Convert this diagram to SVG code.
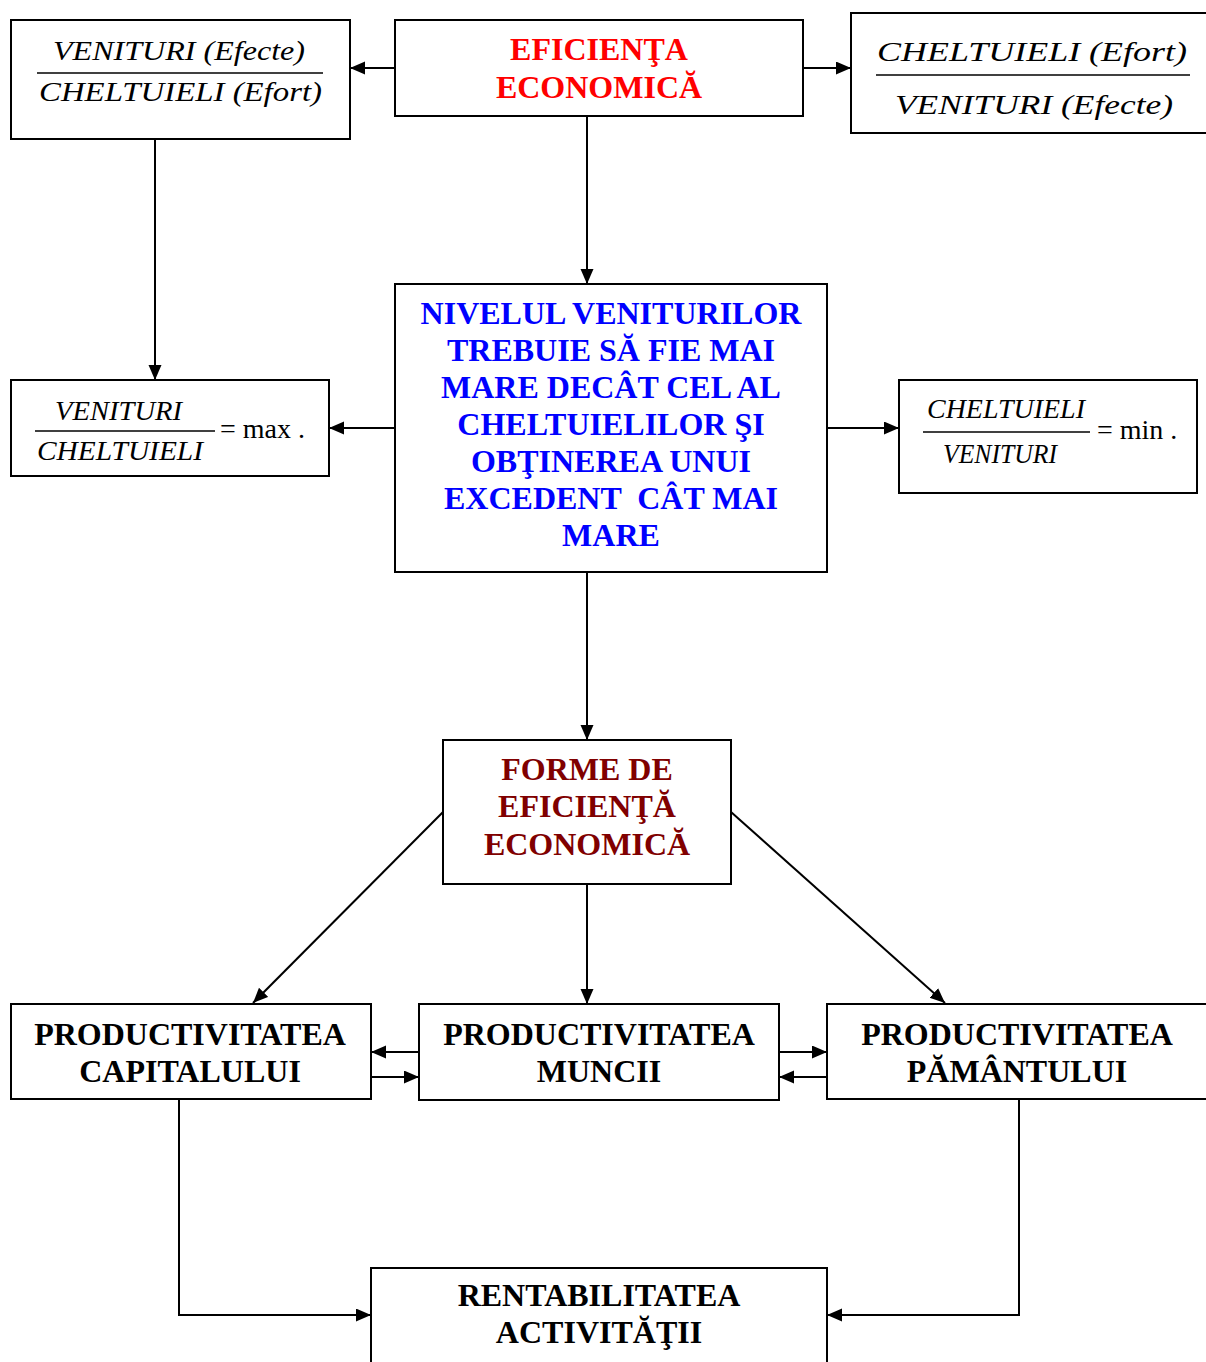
<svg xmlns="http://www.w3.org/2000/svg" width="1206" height="1362" viewBox="0 0 1206 1362">
<style>
.box{fill:#fff;stroke:#000;stroke-width:2}
.t{font-family:"Liberation Serif","Times New Roman",serif;font-weight:bold;font-size:32px;text-anchor:middle}
.red{fill:#FF0000}.blue{fill:#0000FF}.dred{fill:#800000}.blk{fill:#000}
.m{font-family:"Liberation Serif","Times New Roman",serif;font-style:italic;font-size:28px;fill:#000}
.u{font-family:"Liberation Serif","Times New Roman",serif;font-size:28px;fill:#000}
.fl{stroke:#000;stroke-width:1.3}
.c{fill:none;stroke:#000;stroke-width:2}
</style>
<defs>
<marker id="ah" markerUnits="userSpaceOnUse" markerWidth="16" markerHeight="14" refX="15" refY="6.5" orient="auto"><path d="M0,0 L15,6.5 L0,13 z" fill="#000"/></marker>
</defs>
<g id="connectors">
<line class="c" x1="395" y1="68" x2="350" y2="68" marker-end="url(#ah)"/>
<line class="c" x1="803" y1="68" x2="851" y2="68" marker-end="url(#ah)"/>
<line class="c" x1="155" y1="139" x2="155" y2="380" marker-end="url(#ah)"/>
<line class="c" x1="587" y1="116" x2="587" y2="284" marker-end="url(#ah)"/>
<line class="c" x1="395" y1="428" x2="329" y2="428" marker-end="url(#ah)"/>
<line class="c" x1="827" y1="428" x2="899" y2="428" marker-end="url(#ah)"/>
<line class="c" x1="587" y1="573" x2="587" y2="740" marker-end="url(#ah)"/>
<line class="c" x1="443" y1="812" x2="253" y2="1003" marker-end="url(#ah)"/>
<line class="c" x1="731" y1="812" x2="945" y2="1003" marker-end="url(#ah)"/>
<line class="c" x1="587" y1="884" x2="587" y2="1004" marker-end="url(#ah)"/>
<line class="c" x1="419" y1="1052" x2="371" y2="1052" marker-end="url(#ah)"/>
<line class="c" x1="371" y1="1077" x2="419" y2="1077" marker-end="url(#ah)"/>
<line class="c" x1="779" y1="1052" x2="827" y2="1052" marker-end="url(#ah)"/>
<line class="c" x1="827" y1="1077" x2="779" y2="1077" marker-end="url(#ah)"/>
<polyline class="c" points="179,1099 179,1315 371,1315" marker-end="url(#ah)"/>
<polyline class="c" points="1019,1099 1019,1315 827,1315" marker-end="url(#ah)"/>
</g>
<g id="ratio-venituri-cheltuieli">
<rect class="box" x="11" y="20" width="339" height="119"/>
<text class="m" x="53" y="60" textLength="252" lengthAdjust="spacingAndGlyphs">VENITURI (Efecte)</text>
<line class="fl" x1="37" y1="73" x2="323" y2="73"/>
<text class="m" x="39" y="101" textLength="283" lengthAdjust="spacingAndGlyphs">CHELTUIELI (Efort)</text>
</g>
<g id="eficienta-economica">
<rect class="box" x="395" y="20" width="408" height="96"/>
<text class="t red" x="599" y="60">EFICIENŢA</text>
<text class="t red" x="599" y="98">ECONOMICĂ</text>
</g>
<g id="ratio-cheltuieli-venituri">
<rect class="box" x="851" y="13" width="360" height="120"/>
<text class="m" x="877" y="61" textLength="310" lengthAdjust="spacingAndGlyphs">CHELTUIELI (Efort)</text>
<line class="fl" x1="876" y1="75" x2="1190" y2="75"/>
<text class="m" x="895" y="114" textLength="278" lengthAdjust="spacingAndGlyphs">VENITURI (Efecte)</text>
</g>
<g id="nivelul-veniturilor">
<rect class="box" x="395" y="284" width="432" height="288"/>
<text class="t blue" x="611" y="324">NIVELUL VENITURILOR</text>
<text class="t blue" x="611" y="361">TREBUIE SĂ FIE MAI</text>
<text class="t blue" x="611" y="398">MARE DECÂT CEL AL</text>
<text class="t blue" x="611" y="435">CHELTUIELILOR ŞI</text>
<text class="t blue" x="611" y="472">OBŢINEREA UNUI</text>
<text class="t blue" x="611" y="509" style="white-space:pre">EXCEDENT  CÂT MAI</text>
<text class="t blue" x="611" y="546">MARE</text>
</g>
<g id="max">
<rect class="box" x="11" y="380" width="318" height="96"/>
<text class="m" x="55" y="420" textLength="127" lengthAdjust="spacingAndGlyphs">VENITURI</text>
<line class="fl" x1="35" y1="431" x2="215" y2="431"/>
<text class="m" x="37" y="460" textLength="166" lengthAdjust="spacingAndGlyphs">CHELTUIELI</text>
<text class="u" x="220" y="438">= max .</text>
</g>
<g id="min">
<rect class="box" x="899" y="380" width="298" height="113"/>
<text class="m" x="927" y="418" textLength="158" lengthAdjust="spacingAndGlyphs">CHELTUIELI</text>
<line class="fl" x1="923" y1="432" x2="1090" y2="432"/>
<text class="m" x="943" y="463" textLength="114" lengthAdjust="spacingAndGlyphs">VENITURI</text>
<text class="u" x="1097" y="439">= min .</text>
</g>
<g id="forme-de-eficienta">
<rect class="box" x="443" y="740" width="288" height="144"/>
<text class="t dred" x="587" y="780">FORME DE</text>
<text class="t dred" x="587" y="817">EFICIENŢĂ</text>
<text class="t dred" x="587" y="855">ECONOMICĂ</text>
</g>
<g id="productivitatea-capitalului">
<rect class="box" x="11" y="1004" width="360" height="95"/>
<text class="t blk" x="190" y="1045">PRODUCTIVITATEA</text>
<text class="t blk" x="190" y="1082">CAPITALULUI</text>
</g>
<g id="productivitatea-muncii">
<rect class="box" x="419" y="1004" width="360" height="96"/>
<text class="t blk" x="599" y="1045">PRODUCTIVITATEA</text>
<text class="t blk" x="599" y="1082">MUNCII</text>
</g>
<g id="productivitatea-pamantului">
<rect class="box" x="827" y="1004" width="390" height="95"/>
<text class="t blk" x="1017" y="1045">PRODUCTIVITATEA</text>
<text class="t blk" x="1017" y="1082">PĂMÂNTULUI</text>
</g>
<g id="rentabilitatea-activitatii">
<rect class="box" x="371" y="1268" width="456" height="110"/>
<text class="t blk" x="599" y="1306">RENTABILITATEA</text>
<text class="t blk" x="599" y="1343">ACTIVITĂŢII</text>
</g>
</svg>
